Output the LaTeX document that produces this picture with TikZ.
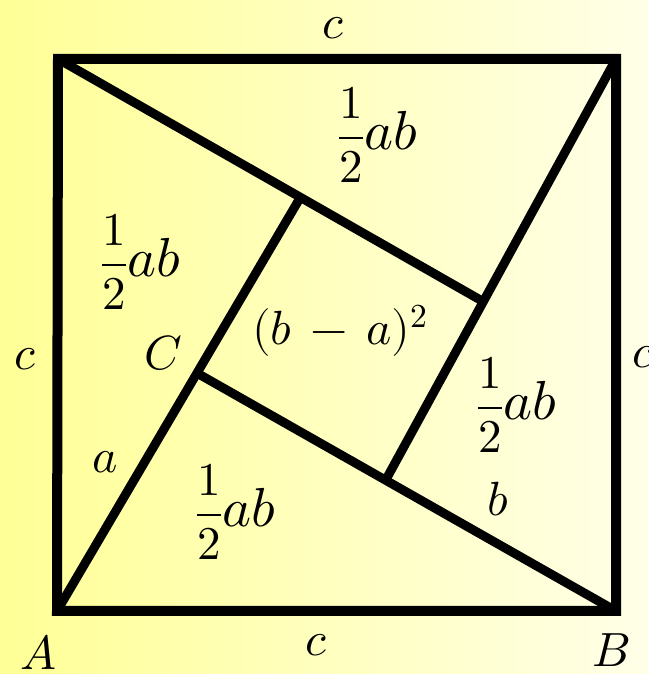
\documentclass[tikz,border=0pt]{standalone}
\usepackage{amsmath}
\usepackage{unicode-math}
\setmathfont{Latin Modern Math}
\newcommand{\halfab}{$\dfrac{1}{2}$\fontsize{55}{60}\selectfont$ab$}
\begin{document}
\begin{tikzpicture}[x=1pt,y=1pt,
  lbl/.style={inner sep=0pt, font=\fontsize{48}{56}\selectfont},
  half/.style={inner sep=0pt, anchor=base west, font=\fontsize{47}{54}\selectfont},
  frame/.style={line width=10pt, line join=miter},
  seg/.style={line width=9pt}]
\shade[left color={rgb,255:red,255;green,255;blue,150}, right color={rgb,255:red,255;green,255;blue,232}] (0,0) rectangle (648,674);
\useasboundingbox (0,0) rectangle (648,674);
% square corners
\coordinate (A) at (57,63);
\coordinate (B) at (616,63);
\coordinate (D) at (616,615);
\coordinate (E) at (58,615);
% guide points
\coordinate (Cm) at (202,298);
\coordinate (P1m) at (300,476);
\coordinate (P2m) at (482,373);
\coordinate (P3m) at (389,200);
\coordinate (C) at (intersection of A--P1m and B--Cm);
\coordinate (P1) at (intersection of A--P1m and E--P2m);
\coordinate (P2) at (intersection of E--P2m and D--P3m);
\coordinate (P3) at (intersection of D--P3m and B--Cm);
\draw[frame] (A) -- (B) -- (D) -- (E) -- cycle;
\draw[seg] (A) -- (P1);
\draw[seg] (E) -- (P2);
\draw[seg] (D) -- (P3);
\draw[seg] (B) -- (C);
% labels
\node[lbl] (ct) at (333,646) {$c$};
\node[lbl] (cb) at (316,29) {$c$};
\node[lbl] (cl) at (25,315) {$c$};
\node[lbl] (cr) at (643,317) {$c$};
\node[lbl] (lA) at (38,22) {$A$};
\node[lbl] (lB) at (611,24) {$B$};
\node[lbl] (lC) at (163,321) {$C$};
\node[lbl] (la) at (105,212) {$a$};
\node[lbl] (lb) at (498,175) {$b$};
\node[lbl] (sq) at (340,343) {$(b\,-\,a)^2$};
\node[half] (t1) at (338,524) {\halfab};
\node[half] (t2) at (101,397) {\halfab};
\node[half] (t3) at (477,254) {\halfab};
\node[half] (t4) at (196,147) {\halfab};
\end{tikzpicture}
\end{document}
